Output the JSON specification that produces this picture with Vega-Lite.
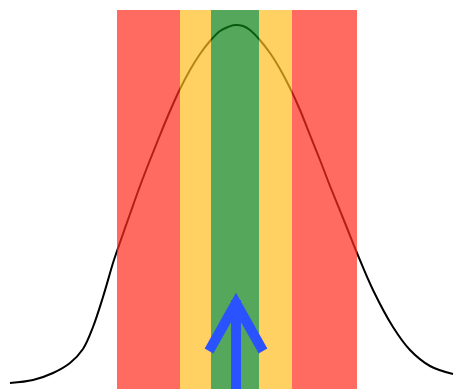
{
  "$schema": "https://vega.github.io/schema/vega-lite/v6.json",
  "width": 454,
  "height": 389,
  "autosize": "none",
  "padding": 0,
  "background": "white",
  "config": {"view": {"stroke": null}},
  "datasets": {
    "curve": [
      {"x": 10, "y": 383}, {"x": 33, "y": 380}, {"x": 53, "y": 373}, {"x": 70, "y": 363},
      {"x": 83, "y": 349}, {"x": 93, "y": 327}, {"x": 103, "y": 297}, {"x": 113, "y": 263},
      {"x": 117, "y": 251}, {"x": 130, "y": 214}, {"x": 140, "y": 186}, {"x": 150, "y": 160},
      {"x": 160, "y": 135}, {"x": 170, "y": 111}, {"x": 180, "y": 89}, {"x": 190, "y": 70},
      {"x": 200, "y": 54}, {"x": 210, "y": 41}, {"x": 220, "y": 31}, {"x": 228, "y": 27},
      {"x": 235, "y": 25}, {"x": 243, "y": 26}, {"x": 250, "y": 30}, {"x": 259, "y": 39},
      {"x": 270, "y": 53}, {"x": 280, "y": 69}, {"x": 290, "y": 88}, {"x": 300, "y": 110},
      {"x": 310, "y": 135}, {"x": 320, "y": 160}, {"x": 330, "y": 186}, {"x": 345, "y": 223},
      {"x": 357, "y": 253}, {"x": 373, "y": 290}, {"x": 393, "y": 327}, {"x": 410, "y": 350},
      {"x": 430, "y": 366}, {"x": 453, "y": 374}
    ],
    "bands": [
      {"x0": 117, "x1": 180, "y0": 10, "y1": 389, "zone": "red"},
      {"x0": 180, "x1": 211, "y0": 10, "y1": 389, "zone": "yellow"},
      {"x0": 211, "x1": 259, "y0": 10, "y1": 389, "zone": "green"},
      {"x0": 259, "x1": 292, "y0": 10, "y1": 389, "zone": "yellow"},
      {"x0": 292, "x1": 357, "y0": 10, "y1": 389, "zone": "red"}
    ],
    "arrow": [
      {"part": "shaft", "o": 0, "x": 236, "y": 389},
      {"part": "shaft", "o": 1, "x": 236, "y": 300},
      {"part": "head", "o": 0, "x": 209, "y": 351},
      {"part": "head", "o": 1, "x": 236, "y": 303},
      {"part": "head", "o": 2, "x": 263, "y": 351}
    ]
  },
  "layer": [
    {
      "data": {"name": "curve"},
      "mark": {"type": "line", "color": "black", "strokeWidth": 2, "interpolate": "catmull-rom"},
      "encoding": {
        "x": {"field": "x", "type": "quantitative", "scale": {"domain": [0, 454], "nice": false, "zero": false}, "axis": null},
        "y": {"field": "y", "type": "quantitative", "scale": {"domain": [0, 389], "reverse": true, "nice": false, "zero": false}, "axis": null}
      }
    },
    {
      "data": {"name": "bands"},
      "mark": {"type": "rect", "opacity": 0.7},
      "encoding": {
        "x": {"field": "x0", "type": "quantitative"},
        "x2": {"field": "x1"},
        "y": {"field": "y0", "type": "quantitative"},
        "y2": {"field": "y1"},
        "color": {
          "field": "zone", "type": "nominal", "legend": null,
          "scale": {"domain": ["red", "yellow", "green"], "range": ["#FF2C1C", "#FFBC1F", "#0C8116"]}
        }
      }
    },
    {
      "data": {"name": "arrow"},
      "mark": {"type": "line", "color": "#2B52FF", "strokeWidth": 10, "strokeCap": "butt", "strokeJoin": "miter"},
      "encoding": {
        "x": {"field": "x", "type": "quantitative"},
        "y": {"field": "y", "type": "quantitative"},
        "detail": {"field": "part"},
        "order": {"field": "o"}
      }
    }
  ]
}
